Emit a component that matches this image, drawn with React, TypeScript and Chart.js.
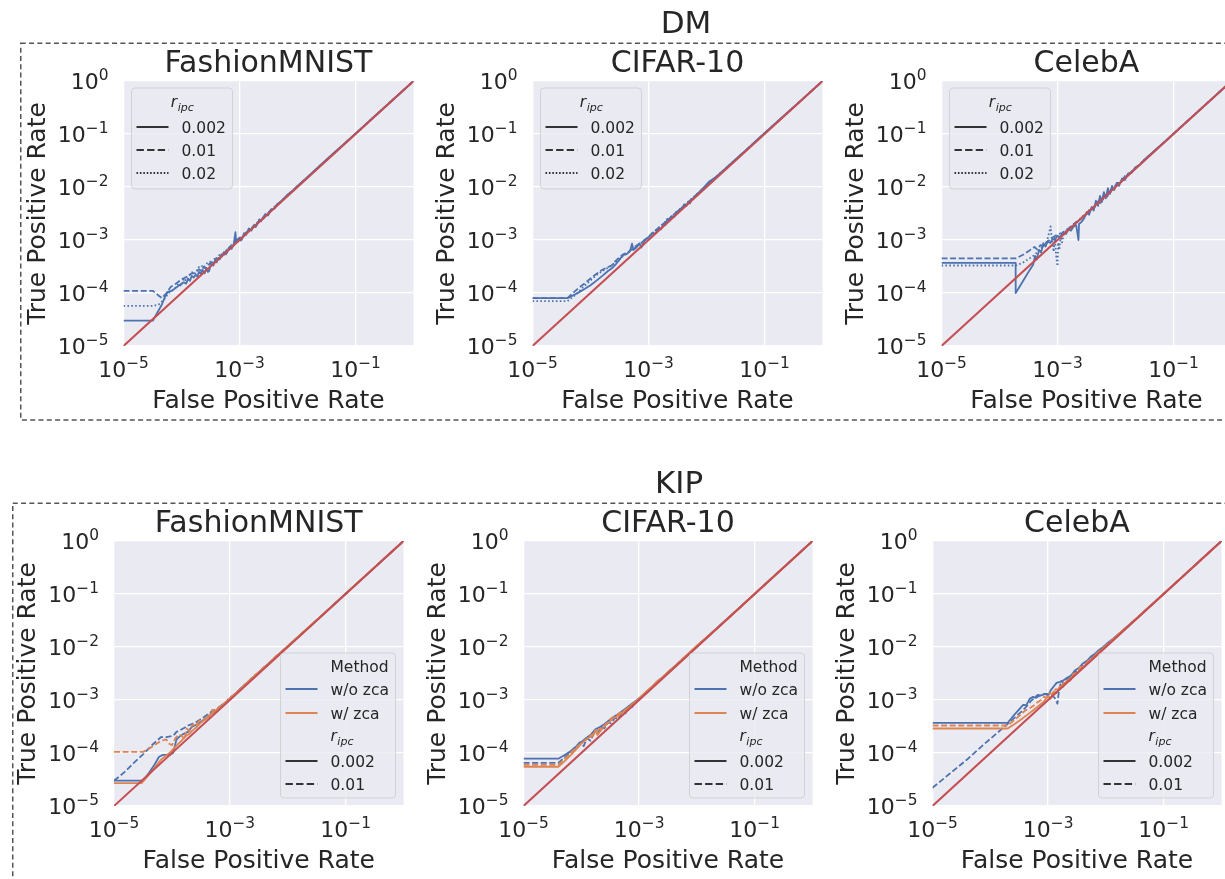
import React, { useEffect, useRef } from "react";
import { Chart, registerables } from "chart.js";

Chart.register(...registerables);

type Pt = [number, number];

// ---------- tick labels ----------
const X_TICKS = [1e-5, 1e-3, 1e-1];
const X_TICK_EXP = ["\u22125", "\u22123", "\u22121"];
const Y_TICKS = [1e-5, 1e-4, 1e-3, 1e-2, 1e-1, 1];
const Y_TICK_EXP = ["\u22125", "\u22124", "\u22123", "\u22122", "\u22121", "0"];

const GROUP_TITLES = ["DM", "KIP"];
const PANEL_TITLES = ["FashionMNIST", "CIFAR-10", "CelebA"];
const X_LABEL = "False Positive Rate";
const Y_LABEL = "True Positive Rate";
const DM_LEGEND_LABELS = ["0.002", "0.01", "0.02"];
const KIP_METHOD_TITLE = "Method";
const KIP_METHOD_LABELS = ["w/o zca", "w/ zca"];
const KIP_RIPC_LABELS = ["0.002", "0.01"];

// ---------- data ----------
const DIAGONAL: Pt[] = [[1e-5, 1e-5], [1, 1]];

// DM FashionMNIST
const DM_FM_0002: Pt[] = [[1e-5,3e-5],[3.2e-5,3e-5],[3.8e-5,4.2e-5],[4.5e-5,5.8e-5],[5.2e-5,8.5e-5],[5.8e-5,1.05e-4],[6.8e-5,1.1e-4],[8e-5,1.25e-4],[9.5e-5,1.45e-4],[1.1e-4,1.6e-4],[1.2e-4,1.5e-4],[1.3e-4,1.85e-4],[1.4e-4,1.7e-4],[1.5e-4,2.1e-4],[1.62e-4,1.95e-4],[1.75e-4,2.2e-4],[1.88e-4,2.05e-4],[2e-4,2.5e-4],[2.15e-4,2.3e-4],[2.3e-4,2.75e-4],[2.5e-4,2.35e-4],[2.7e-4,2.95e-4],[2.85e-4,2.5e-4],[3e-4,2.6e-4],[3.15e-4,3.3e-4],[3.3e-4,3.5e-4],[3.55e-4,3.3e-4],[3.8e-4,4.1e-4],[4.05e-4,3.8e-4],[4.3e-4,4.6e-4],[4.55e-4,4.3e-4],[4.8e-4,4.8e-4],[5.15e-4,5.4e-4],[5.5e-4,5.9e-4],[5.85e-4,5.4e-4],[6.2e-4,6.0e-4],[6.6e-4,7.2e-4],[7e-4,7.6e-4],[7.3e-4,6.8e-4],[7.6e-4,7.4e-4],[8e-4,8.6e-4],[8.5e-4,1.4e-3],[8.8e-4,8.8e-4],[9.4e-4,1.05e-3],[1e-3,1.1e-3],[1.05e-3,9.8e-4],[1.1e-3,1.02e-3],[1.2e-3,1.35e-3],[1.3e-3,1.25e-3],[1.45e-3,1.65e-3],[1.6e-3,1.5e-3],[1.8e-3,1.95e-3],[1.9e-3,1.75e-3],[2e-3,1.95e-3],[2.2e-3,2.45e-3],[2.35e-3,2.25e-3],[2.5e-3,2.6e-3],[2.8e-3,3.1e-3],[3.1e-3,2.9e-3],[3.5e-3,3.8e-3],[4e-3,3.9e-3],[4.5e-3,4.8e-3],[5.2e-3,5.3e-3],[6.5e-3,6.9e-3],[8e-3,8.3e-3],[1e-2,1.05e-2],[1.5e-2,1.55e-2],[2.5e-2,2.6e-2],[4e-2,4.15e-2],[7e-2,7.2e-2],[0.12,0.122],[0.2,0.203],[0.35,0.352],[0.6,0.601],[1,1]];
const DM_FM_001: Pt[] = [[1e-5,1.1e-4],[3.2e-5,1.1e-4],[4e-5,9e-5],[4.6e-5,8e-5],[5.5e-5,1.0e-4],[6.5e-5,1.3e-4],[8e-5,1.5e-4],[1e-4,1.8e-4],[1.2e-4,2.0e-4],[1.45e-4,2.3e-4],[1.7e-4,2.4e-4],[2e-4,2.8e-4],[2.2e-4,2.6e-4],[2.4e-4,3.1e-4],[2.6e-4,2.9e-4],[2.8e-4,3.3e-4],[3.3e-4,3.8e-4],[3.6e-4,3.5e-4],[4e-4,4.6e-4],[4.5e-4,4.4e-4],[5e-4,5.6e-4],[5.5e-4,5.3e-4],[6e-4,6.6e-4],[6.6e-4,6.4e-4],[7.2e-4,8e-4],[7.9e-4,7.7e-4],[8.6e-4,9.4e-4],[9.3e-4,9.0e-4],[1e-3,1.08e-3],[1.15e-3,1.12e-3],[1.3e-3,1.4e-3],[1.5e-3,1.45e-3],[1.7e-3,1.8e-3],[1.95e-3,1.9e-3],[2.2e-3,2.35e-3],[2.6e-3,2.55e-3],[3e-3,3.15e-3],[4e-3,4.2e-3],[5.5e-3,5.7e-3],[8e-3,8.3e-3],[1.2e-2,1.24e-2],[2e-2,2.05e-2],[4e-2,4.08e-2],[8e-2,8.1e-2],[0.16,0.161],[0.35,0.351],[1,1]];
const DM_FM_002: Pt[] = [[1e-5,5.7e-5],[3.2e-5,5.7e-5],[4e-5,6e-5],[5e-5,7.5e-5],[6e-5,1.0e-4],[7.5e-5,1.2e-4],[9e-5,1.5e-4],[1e-4,1.35e-4],[1.1e-4,1.9e-4],[1.2e-4,1.7e-4],[1.35e-4,2.1e-4],[1.45e-4,2.4e-4],[1.6e-4,2.5e-4],[1.75e-4,2.3e-4],[1.9e-4,2.9e-4],[2.05e-4,3.2e-4],[2.2e-4,3.3e-4],[2.4e-4,3.0e-4],[2.6e-4,3.4e-4],[2.8e-4,3.7e-4],[3.1e-4,3.9e-4],[3.4e-4,3.6e-4],[3.7e-4,4.4e-4],[4.1e-4,4.2e-4],[4.5e-4,5.2e-4],[5e-4,4.9e-4],[5.5e-4,6.2e-4],[6.1e-4,6.0e-4],[6.8e-4,7.6e-4],[7.6e-4,7.3e-4],[8.5e-4,9.5e-4],[9.5e-4,9.3e-4],[1.05e-3,1.15e-3],[1.2e-3,1.18e-3],[1.4e-3,1.5e-3],[1.7e-3,1.68e-3],[2e-3,2.1e-3],[2.5e-3,2.48e-3],[3e-3,3.1e-3],[4.5e-3,4.7e-3],[7e-3,7.2e-3],[1.2e-2,1.23e-2],[2.5e-2,2.55e-2],[6e-2,6.05e-2],[0.15,0.151],[0.4,0.401],[1,1]];

// DM CIFAR-10
const DM_C10_0002: Pt[] = [[1e-5,8e-5],[4e-5,8e-5],[5e-5,9e-5],[6.5e-5,1.05e-4],[8e-5,1.2e-4],[1e-4,1.4e-4],[1.3e-4,1.75e-4],[1.6e-4,2.1e-4],[2e-4,2.6e-4],[2.4e-4,3.0e-4],[2.8e-4,3.6e-4],[3.2e-4,4.3e-4],[3.6e-4,5.2e-4],[4.2e-4,5.4e-4],[4.8e-4,6.2e-4],[5.2e-4,8.5e-4],[5.5e-4,6.5e-4],[6.2e-4,7.2e-4],[7e-4,8.6e-4],[7.5e-4,7.2e-4],[8.5e-4,9.8e-4],[1e-3,1.1e-3],[1.15e-3,1.35e-3],[1.3e-3,1.3e-3],[1.5e-3,1.7e-3],[1.65e-3,1.6e-3],[1.8e-3,2.0e-3],[2e-3,1.95e-3],[2.1e-3,2.5e-3],[2.3e-3,2.3e-3],[2.5e-3,2.8e-3],[2.75e-3,2.7e-3],[3e-3,3.4e-3],[3.25e-3,3.25e-3],[3.5e-3,3.9e-3],[3.8e-3,3.8e-3],[4.1e-3,4.7e-3],[4.5e-3,4.4e-3],[4.8e-3,5.2e-3],[5.2e-3,4.9e-3],[5.5e-3,5.9e-3],[6.3e-3,6.5e-3],[7.5e-3,8.0e-3],[9e-3,9.8e-3],[1.1e-2,1.25e-2],[1.4e-2,1.5e-2],[2e-2,2.1e-2],[3e-2,3.15e-2],[5e-2,5.2e-2],[8e-2,8.3e-2],[0.13,0.135],[0.22,0.226],[0.4,0.405],[0.7,0.702],[1,1]];
const DM_C10_001: Pt[] = [[1e-5,8e-5],[4e-5,8e-5],[5e-5,1.0e-4],[6e-5,1.2e-4],[7.5e-5,1.45e-4],[9e-5,1.7e-4],[1.1e-4,2.05e-4],[1.35e-4,2.4e-4],[1.6e-4,2.75e-4],[1.9e-4,3.0e-4],[2.3e-4,3.3e-4],[2.7e-4,4.0e-4],[3.2e-4,4.8e-4],[3.7e-4,5.4e-4],[4.3e-4,5.7e-4],[5e-4,6.5e-4],[5.8e-4,7.4e-4],[6.8e-4,8.4e-4],[8e-4,9.4e-4],[9.5e-4,1.1e-3],[1.1e-3,1.25e-3],[1.35e-3,1.55e-3],[1.7e-3,1.9e-3],[2.2e-3,2.45e-3],[2.8e-3,3.1e-3],[3.6e-3,3.9e-3],[4.6e-3,4.9e-3],[6e-3,6.4e-3],[8e-3,8.5e-3],[1.1e-2,1.16e-2],[1.6e-2,1.68e-2],[2.5e-2,2.6e-2],[4e-2,4.15e-2],[7e-2,7.2e-2],[0.13,0.133],[0.25,0.253],[0.5,0.502],[1,1]];
const DM_C10_002: Pt[] = [[1e-5,7e-5],[4e-5,7e-5],[5e-5,8.5e-5],[6e-5,1.0e-4],[7.5e-5,1.3e-4],[9e-5,1.55e-4],[1.1e-4,1.9e-4],[1.35e-4,2.3e-4],[1.6e-4,2.6e-4],[2e-4,3.0e-4],[2.4e-4,3.4e-4],[2.9e-4,4.1e-4],[3.4e-4,4.7e-4],[4e-4,5.3e-4],[4.7e-4,6.0e-4],[5.5e-4,6.8e-4],[6.5e-4,7.8e-4],[7.8e-4,9.1e-4],[9.3e-4,1.08e-3],[1.1e-3,1.25e-3],[1.3e-3,1.5e-3],[1.6e-3,1.8e-3],[2e-3,2.25e-3],[2.5e-3,2.8e-3],[3.2e-3,3.5e-3],[4e-3,4.35e-3],[5e-3,5.4e-3],[6.5e-3,7e-3],[9e-3,9.6e-3],[1.3e-2,1.37e-2],[2e-2,2.1e-2],[3.5e-2,3.62e-2],[6e-2,6.15e-2],[0.11,0.112],[0.22,0.222],[0.45,0.451],[1,1]];

// DM CelebA
const DM_CA_0002: Pt[] = [[1e-5,3.7e-4],[1.9e-4,3.7e-4],[1.9e-4,1.0e-4],[2.3e-4,1.4e-4],[2.8e-4,2.0e-4],[3.3e-4,2.7e-4],[3.8e-4,3.4e-4],[4.1e-4,5.0e-4],[4.4e-4,4.3e-4],[4.8e-4,6.5e-4],[5.2e-4,5.8e-4],[5.7e-4,8.7e-4],[6.2e-4,7.5e-4],[6.8e-4,9.5e-4],[7.5e-4,8.8e-4],[8.2e-4,1.05e-3],[9e-4,1.0e-3],[1e-3,1.2e-3],[1.1e-3,1.1e-3],[1.25e-3,1.4e-3],[1.4e-3,1.3e-3],[1.55e-3,1.6e-3],[1.7e-3,1.5e-3],[1.9e-3,1.8e-3],[2.1e-3,1.9e-3],[2.3e-3,1.0e-3],[2.35e-3,2.0e-3],[2.6e-3,2.2e-3],[2.9e-3,2.6e-3],[3.2e-3,3.4e-3],[3.5e-3,3.0e-3],[3.9e-3,4.2e-3],[4.2e-3,3.6e-3],[4.6e-3,5.5e-3],[5e-3,4.4e-3],[5.4e-3,6.8e-3],[5.8e-3,5.2e-3],[6.3e-3,8e-3],[6.8e-3,6.1e-3],[7.4e-3,9.5e-3],[8e-3,7.4e-3],[8.7e-3,1.05e-2],[9.5e-3,8.8e-3],[1.05e-2,1.2e-2],[1.15e-2,1.05e-2],[1.3e-2,1.45e-2],[1.45e-2,1.35e-2],[1.65e-2,1.8e-2],[1.9e-2,1.85e-2],[2.2e-2,2.35e-2],[2.6e-2,2.6e-2],[3.2e-2,3.35e-2],[4e-2,4.1e-2],[5e-2,5.15e-2],[7e-2,7.1e-2],[0.1,0.102],[0.16,0.162],[0.28,0.282],[0.5,0.501],[1,1]];
const DM_CA_001: Pt[] = [[1e-5,4.5e-4],[1.9e-4,4.5e-4],[2.5e-4,5.2e-4],[3.2e-4,6.2e-4],[4e-4,7.4e-4],[4.5e-4,6.6e-4],[5.1e-4,8e-4],[5.8e-4,7.6e-4],[6.5e-4,9.2e-4],[7.3e-4,1.0e-3],[8.2e-4,1.1e-3],[9.2e-4,1.2e-3],[1.05e-3,1.3e-3],[1.2e-3,1.35e-3],[1.35e-3,1.5e-3],[1.55e-3,1.65e-3],[1.8e-3,1.9e-3],[2.1e-3,2.2e-3],[2.4e-3,2.3e-3],[2.8e-3,2.9e-3],[3.2e-3,3.1e-3],[3.7e-3,4.0e-3],[4.2e-3,3.9e-3],[4.8e-3,5.3e-3],[5.5e-3,5.0e-3],[6.3e-3,7.0e-3],[7.2e-3,6.6e-3],[8.2e-3,9.2e-3],[9.4e-3,8.9e-3],[1.08e-2,1.2e-2],[1.25e-2,1.2e-2],[1.45e-2,1.6e-2],[1.7e-2,1.72e-2],[2e-2,2.1e-2],[2.5e-2,2.55e-2],[3.2e-2,3.3e-2],[4.5e-2,4.6e-2],[7e-2,7.1e-2],[0.12,0.121],[0.22,0.221],[0.45,0.451],[1,1]];
const DM_CA_002: Pt[] = [[1e-5,3.3e-4],[1.9e-4,3.3e-4],[2.5e-4,3.7e-4],[3.3e-4,4.5e-4],[4e-4,5.2e-4],[4.8e-4,6.3e-4],[5.6e-4,7.5e-4],[6.5e-4,9e-4],[7.2e-4,1.4e-3],[7.6e-4,1.8e-3],[8e-4,1.0e-3],[8.6e-4,6e-4],[9e-4,1.1e-3],[9.5e-4,5e-4],[1e-3,3.2e-4],[1.03e-3,9e-4],[1.08e-3,6.5e-4],[1.13e-3,1.2e-3],[1.2e-3,9e-4],[1.3e-3,1.4e-3],[1.45e-3,1.5e-3],[1.65e-3,1.7e-3],[1.9e-3,1.95e-3],[2.2e-3,2.2e-3],[2.6e-3,2.7e-3],[3.1e-3,3.0e-3],[3.7e-3,3.9e-3],[4.4e-3,4.2e-3],[5.2e-3,5.6e-3],[6.1e-3,5.8e-3],[7.2e-3,7.8e-3],[8.5e-3,8.2e-3],[1e-2,1.08e-2],[1.2e-2,1.18e-2],[1.5e-2,1.56e-2],[2e-2,2.05e-2],[3e-2,3.05e-2],[5e-2,5.05e-2],[0.09,0.091],[0.18,0.181],[0.4,0.401],[1,1]];

// KIP FashionMNIST
const KIP_FM_NOZCA_0002: Pt[] = [[1e-5,3e-5],[3.2e-5,3e-5],[4e-5,4.2e-5],[5e-5,6e-5],[6e-5,8.5e-5],[7e-5,9.2e-5],[9e-5,9.2e-5],[1.05e-4,1.0e-4],[1.2e-4,1.8e-4],[1.4e-4,2.1e-4],[1.6e-4,2.3e-4],[1.9e-4,2.5e-4],[2.2e-4,3.1e-4],[2.5e-4,3.3e-4],[2.9e-4,3.6e-4],[3.4e-4,4.1e-4],[4e-4,4.6e-4],[4.7e-4,5.4e-4],[5.5e-4,6.0e-4],[6.5e-4,6.8e-4],[7.5e-4,8.2e-4],[8.5e-4,8.8e-4],[1e-3,1.06e-3],[1.2e-3,1.25e-3],[1.5e-3,1.6e-3],[1.9e-3,2.0e-3],[2.4e-3,2.55e-3],[3e-3,3.1e-3],[3.8e-3,4.0e-3],[4.8e-3,5.0e-3],[6e-3,6.2e-3],[7.5e-3,7.8e-3],[1e-2,1.03e-2],[1.5e-2,1.53e-2],[2.5e-2,2.53e-2],[5e-2,5.05e-2],[0.1,0.101],[0.25,0.251],[0.6,0.601],[1,1]];
const KIP_FM_ZCA_0002: Pt[] = [[1e-5,2.7e-5],[3e-5,2.7e-5],[3.6e-5,3.4e-5],[4.5e-5,4.5e-5],[5.5e-5,6e-5],[6.5e-5,7.5e-5],[8e-5,9e-5],[9.5e-5,1.05e-4],[1.1e-4,1.25e-4],[1.3e-4,1.5e-4],[1.5e-4,1.75e-4],[1.75e-4,2.1e-4],[2e-4,2.3e-4],[2.3e-4,2.7e-4],[2.7e-4,3.1e-4],[3.2e-4,3.8e-4],[3.8e-4,4.3e-4],[4.5e-4,5.3e-4],[5.3e-4,5.9e-4],[6.3e-4,7.0e-4],[7.5e-4,8.1e-4],[9e-4,9.6e-4],[1.1e-3,1.17e-3],[1.35e-3,1.42e-3],[1.7e-3,1.8e-3],[2.1e-3,2.22e-3],[2.7e-3,2.82e-3],[3.5e-3,3.62e-3],[4.5e-3,4.65e-3],[6e-3,6.2e-3],[8e-3,8.25e-3],[1.1e-2,1.13e-2],[1.6e-2,1.64e-2],[2.5e-2,2.54e-2],[4.5e-2,4.55e-2],[0.09,0.091],[0.2,0.201],[0.5,0.501],[1,1]];
const KIP_FM_NOZCA_001: Pt[] = [[1e-5,3e-5],[1.5e-5,4.3e-5],[2.2e-5,6.5e-5],[3.2e-5,9.5e-5],[4.5e-5,1.4e-4],[6.5e-5,2.0e-4],[8e-5,2.0e-4],[1.05e-4,2.1e-4],[1.2e-4,2.5e-4],[1.4e-4,2.7e-4],[1.65e-4,3.0e-4],[1.9e-4,3.3e-4],[2.2e-4,3.5e-4],[2.6e-4,3.8e-4],[3e-4,4.2e-4],[3.5e-4,4.7e-4],[4.2e-4,5.4e-4],[5e-4,6.2e-4],[6e-4,6.8e-4],[7e-4,7.8e-4],[8.2e-4,8.6e-4],[9.5e-4,1.05e-3],[1.15e-3,1.22e-3],[1.4e-3,1.5e-3],[1.8e-3,1.92e-3],[2.3e-3,2.45e-3],[3e-3,3.15e-3],[4e-3,4.15e-3],[5.5e-3,5.7e-3],[7.5e-3,7.75e-3],[1.1e-2,1.13e-2],[1.7e-2,1.74e-2],[3e-2,3.05e-2],[6e-2,6.05e-2],[0.13,0.131],[0.3,0.301],[1,1]];
const KIP_FM_ZCA_001: Pt[] = [[1e-5,1.05e-4],[3.2e-5,1.05e-4],[4e-5,1.2e-4],[5e-5,1.4e-4],[6.5e-5,1.7e-4],[8e-5,1.8e-4],[9e-5,1.5e-4],[1e-4,1.4e-4],[1.15e-4,1.9e-4],[1.3e-4,2.2e-4],[1.5e-4,2.1e-4],[1.65e-4,1.8e-4],[1.8e-4,2.9e-4],[2e-4,2.6e-4],[2.3e-4,3.5e-4],[2.6e-4,3.2e-4],[3e-4,4.2e-4],[3.4e-4,3.9e-4],[3.9e-4,5.0e-4],[4.4e-4,4.7e-4],[5e-4,6.6e-4],[5.6e-4,5.8e-4],[6.3e-4,7.1e-4],[7.2e-4,7.6e-4],[8.2e-4,8.9e-4],[9.5e-4,1.0e-3],[1.1e-3,1.18e-3],[1.3e-3,1.38e-3],[1.6e-3,1.7e-3],[2e-3,2.15e-3],[2.5e-3,2.75e-3],[3.1e-3,3.3e-3],[3.8e-3,4.1e-3],[4.8e-3,5.0e-3],[6e-3,6.4e-3],[7.5e-3,7.9e-3],[1e-2,1.05e-2],[1.4e-2,1.45e-2],[2e-2,2.06e-2],[3.2e-2,3.26e-2],[6e-2,6.05e-2],[0.13,0.131],[0.3,0.301],[1,1]];

// KIP CIFAR-10
const KIP_C10_NOZCA_0002: Pt[] = [[1e-5,7.8e-5],[4e-5,7.8e-5],[5e-5,9e-5],[6.3e-5,1.05e-4],[8e-5,1.3e-4],[1e-4,1.6e-4],[1.2e-4,1.9e-4],[1.45e-4,2.2e-4],[1.75e-4,2.8e-4],[2.1e-4,3.1e-4],[2.5e-4,3.5e-4],[3e-4,4.1e-4],[3.6e-4,4.8e-4],[4.3e-4,5.4e-4],[5.2e-4,6.3e-4],[6.2e-4,7.2e-4],[7.5e-4,8.5e-4],[9e-4,9.8e-4],[1.1e-3,1.18e-3],[1.35e-3,1.43e-3],[1.7e-3,1.8e-3],[2.1e-3,2.25e-3],[2.7e-3,2.85e-3],[3.5e-3,3.7e-3],[4.5e-3,4.7e-3],[6e-3,6.2e-3],[8e-3,8.3e-3],[1.1e-2,1.13e-2],[1.6e-2,1.64e-2],[2.5e-2,2.54e-2],[4.5e-2,4.55e-2],[0.09,0.091],[0.2,0.201],[0.5,0.501],[1,1]];
const KIP_C10_ZCA_0002: Pt[] = [[1e-5,5.5e-5],[4e-5,5.5e-5],[5e-5,6.8e-5],[6.5e-5,9e-5],[8e-5,1.15e-4],[1e-4,1.5e-4],[1.2e-4,1.8e-4],[1.4e-4,2.0e-4],[1.6e-4,2.1e-4],[1.75e-4,2.7e-4],[1.9e-4,2.2e-4],[2.2e-4,2.7e-4],[2.6e-4,3.3e-4],[3.1e-4,3.9e-4],[3.6e-4,4.6e-4],[4.2e-4,4.9e-4],[5e-4,5.7e-4],[6e-4,6.6e-4],[7.2e-4,7.8e-4],[8.6e-4,9.2e-4],[1.05e-3,1.12e-3],[1.3e-3,1.4e-3],[1.6e-3,1.72e-3],[2e-3,2.2e-3],[2.4e-3,2.5e-3],[3e-3,3.2e-3],[3.8e-3,4.0e-3],[4.8e-3,5.0e-3],[6.2e-3,6.6e-3],[8e-3,8.4e-3],[1e-2,1.06e-2],[1.3e-2,1.36e-2],[1.8e-2,1.85e-2],[2.8e-2,2.84e-2],[5e-2,5.05e-2],[0.1,0.101],[0.22,0.221],[0.5,0.501],[1,1]];
const KIP_C10_NOZCA_001: Pt[] = [[1e-5,6.5e-5],[4e-5,6.5e-5],[5e-5,8e-5],[6.5e-5,1.05e-4],[8e-5,1.3e-4],[9.5e-5,1.6e-4],[1.1e-4,1.35e-4],[1.25e-4,1.9e-4],[1.45e-4,1.7e-4],[1.65e-4,2.4e-4],[1.9e-4,2.3e-4],[2.2e-4,3.1e-4],[2.5e-4,2.9e-4],[2.9e-4,3.8e-4],[3.3e-4,3.6e-4],[3.8e-4,4.6e-4],[4.4e-4,4.4e-4],[5e-4,5.8e-4],[5.8e-4,5.6e-4],[6.6e-4,7.3e-4],[7.6e-4,7.4e-4],[8.8e-4,9.5e-4],[1e-3,1.0e-3],[1.2e-3,1.27e-3],[1.45e-3,1.5e-3],[1.8e-3,1.9e-3],[2.3e-3,2.4e-3],[2.9e-3,3.05e-3],[3.7e-3,3.9e-3],[4.8e-3,4.95e-3],[6.3e-3,6.5e-3],[8.5e-3,8.8e-3],[1.2e-2,1.24e-2],[1.8e-2,1.84e-2],[3e-2,3.04e-2],[6e-2,6.05e-2],[0.13,0.131],[0.3,0.301],[1,1]];
const KIP_C10_ZCA_001: Pt[] = [[1e-5,6e-5],[4e-5,6e-5],[5e-5,7.5e-5],[6.5e-5,1.0e-4],[8e-5,1.25e-4],[1e-4,1.55e-4],[1.2e-4,1.75e-4],[1.4e-4,2.1e-4],[1.65e-4,2.3e-4],[1.9e-4,2.7e-4],[2.3e-4,3.0e-4],[2.7e-4,3.6e-4],[3.2e-4,4.4e-4],[3.8e-4,4.8e-4],[4.5e-4,5.6e-4],[5.4e-4,6.3e-4],[6.4e-4,7.1e-4],[7.6e-4,8.3e-4],[9e-4,9.7e-4],[1.1e-3,1.15e-3],[1.35e-3,1.45e-3],[1.7e-3,1.78e-3],[2.1e-3,2.3e-3],[2.6e-3,2.75e-3],[3.3e-3,3.5e-3],[4.2e-3,4.4e-3],[5.4e-3,5.7e-3],[7e-3,7.3e-3],[9.5e-3,9.9e-3],[1.3e-2,1.34e-2],[2e-2,2.04e-2],[3.5e-2,3.54e-2],[7e-2,7.05e-2],[0.15,0.151],[0.35,0.351],[1,1]];

// KIP CelebA
const KIP_CA_NOZCA_0002: Pt[] = [[1e-5,3.7e-4],[2e-4,3.7e-4],[2.5e-4,5e-4],[3.1e-4,6.5e-4],[3.7e-4,8.1e-4],[4.2e-4,8e-4],[4.8e-4,1.05e-3],[5.5e-4,1.15e-3],[6.2e-4,1.1e-3],[7e-4,1.2e-3],[8e-4,1.25e-3],[9e-4,1.3e-3],[1e-3,1.2e-3],[1.1e-3,1.5e-3],[1.25e-3,1.8e-3],[1.4e-3,2.1e-3],[1.6e-3,2.2e-3],[1.8e-3,2.3e-3],[2.1e-3,2.6e-3],[2.5e-3,2.9e-3],[2.9e-3,3.6e-3],[3.4e-3,4.0e-3],[4e-3,4.9e-3],[4.7e-3,5.5e-3],[5.5e-3,6.6e-3],[6.5e-3,7.5e-3],[7.6e-3,8.8e-3],[9e-3,1.0e-2],[1.1e-2,1.22e-2],[1.35e-2,1.45e-2],[1.7e-2,1.8e-2],[2.2e-2,2.28e-2],[3e-2,3.08e-2],[4.5e-2,4.6e-2],[7e-2,7.1e-2],[0.12,0.121],[0.25,0.251],[0.55,0.551],[1,1]];
const KIP_CA_ZCA_0002: Pt[] = [[1e-5,2.9e-4],[2e-4,2.9e-4],[2.6e-4,3.5e-4],[3.4e-4,4.3e-4],[4.4e-4,5.3e-4],[5.6e-4,6.5e-4],[7e-4,7.9e-4],[8.5e-4,9.4e-4],[1e-3,1.2e-3],[1.1e-3,1.05e-3],[1.25e-3,1.45e-3],[1.4e-3,1.35e-3],[1.6e-3,1.8e-3],[1.8e-3,1.75e-3],[2.1e-3,2.3e-3],[2.4e-3,2.3e-3],[2.8e-3,3.1e-3],[3.2e-3,3.2e-3],[3.7e-3,4.1e-3],[4.3e-3,4.3e-3],[5e-3,5.5e-3],[5.8e-3,5.8e-3],[6.8e-3,7.4e-3],[8e-3,8.1e-3],[9.5e-3,1.02e-2],[1.12e-2,1.15e-2],[1.35e-2,1.45e-2],[1.6e-2,1.62e-2],[1.95e-2,2.08e-2],[2.4e-2,2.45e-2],[3e-2,3.12e-2],[3.8e-2,3.85e-2],[5e-2,5.15e-2],[6.5e-2,6.55e-2],[0.09,0.092],[0.13,0.131],[0.2,0.202],[0.35,0.351],[0.6,0.601],[1,1]];
const KIP_CA_NOZCA_001: Pt[] = [[1e-5,2.2e-5],[2e-5,4.1e-5],[4e-5,7.6e-5],[8e-5,1.5e-4],[1.5e-4,2.7e-4],[2.5e-4,4.4e-4],[3.5e-4,6.1e-4],[4.2e-4,7.5e-4],[5e-4,9.5e-4],[5.8e-4,1.1e-3],[6.6e-4,1.25e-3],[7.5e-4,1.2e-3],[8.5e-4,1.3e-3],[1e-3,1.3e-3],[1.15e-3,1.25e-3],[1.3e-3,1.1e-3],[1.45e-3,8.5e-4],[1.55e-3,1.6e-3],[1.7e-3,2.3e-3],[1.9e-3,2.0e-3],[2.2e-3,2.6e-3],[2.6e-3,2.8e-3],[3.1e-3,3.6e-3],[3.7e-3,4.0e-3],[4.4e-3,5.0e-3],[5.3e-3,5.8e-3],[6.4e-3,7.2e-3],[7.8e-3,8.4e-3],[9.5e-3,1.05e-2],[1.2e-2,1.28e-2],[1.6e-2,1.68e-2],[2.2e-2,2.28e-2],[3.2e-2,3.28e-2],[5e-2,5.08e-2],[8e-2,8.1e-2],[0.15,0.151],[0.32,0.321],[1,1]];
const KIP_CA_ZCA_001: Pt[] = [[1e-5,3.3e-4],[2e-4,3.3e-4],[2.6e-4,4.2e-4],[3.3e-4,5.2e-4],[4e-4,6.3e-4],[4.8e-4,7e-4],[5.6e-4,7.8e-4],[6.5e-4,9e-4],[7.5e-4,1.0e-3],[8.5e-4,1.15e-3],[9.5e-4,1.1e-3],[1.05e-3,1.35e-3],[1.2e-3,1.3e-3],[1.35e-3,1.6e-3],[1.55e-3,1.55e-3],[1.8e-3,2.0e-3],[2e-3,2.3e-3],[2.3e-3,2.4e-3],[2.7e-3,3.1e-3],[3.1e-3,3.2e-3],[3.6e-3,4.2e-3],[4.2e-3,4.4e-3],[5e-3,5.6e-3],[6e-3,6.3e-3],[7.2e-3,7.9e-3],[8.6e-3,9.0e-3],[1.05e-2,1.12e-2],[1.3e-2,1.35e-2],[1.6e-2,1.7e-2],[2e-2,2.06e-2],[2.6e-2,2.7e-2],[3.5e-2,3.56e-2],[5e-2,5.1e-2],[8e-2,8.1e-2],[0.14,0.141],[0.3,0.301],[1,1]];

// ---------- styles ----------
const BLUE = "#4C72B0";
const ORANGE = "#DD8452";
const RED = "#C44E52";
const INK = "#262626";
const HANDLE = "#333333";
const BG = "#EAEAF2";
const FONT = "'DejaVu Sans', 'Liberation Sans', sans-serif";
const SOLID: number[] = [];
const DASHED = [6, 2.6];
const DOTTED = [1.6, 2.3];

type Series = { data: Pt[]; color: string; dash: number[]; order: number };
type Panel = {
  title: string;
  area: [number, number, number, number];
  series: Series[];
  legend: "dm" | "kip";
  figure: boolean;
};

const CANVAS_W = 1240;
const CANVAS_H = 879;

const PANELS: Panel[] = [
  { title: PANEL_TITLES[0], area: [123.5, 81, 413.5, 346], legend: "dm", figure: true,
    series: [
      { data: DM_FM_0002, color: BLUE, dash: SOLID, order: 2 },
      { data: DM_FM_001, color: BLUE, dash: DASHED, order: 2 },
      { data: DM_FM_002, color: BLUE, dash: DOTTED, order: 2 },
    ] },
  { title: PANEL_TITLES[1], area: [532.5, 81, 822.5, 346], legend: "dm", figure: false,
    series: [
      { data: DM_C10_0002, color: BLUE, dash: SOLID, order: 2 },
      { data: DM_C10_001, color: BLUE, dash: DASHED, order: 2 },
      { data: DM_C10_002, color: BLUE, dash: DOTTED, order: 2 },
    ] },
  { title: PANEL_TITLES[2], area: [941.5, 81, 1231.5, 346], legend: "dm", figure: false,
    series: [
      { data: DM_CA_0002, color: BLUE, dash: SOLID, order: 2 },
      { data: DM_CA_001, color: BLUE, dash: DASHED, order: 2 },
      { data: DM_CA_002, color: BLUE, dash: DOTTED, order: 2 },
    ] },
  { title: PANEL_TITLES[0], area: [114, 541, 403.5, 806], legend: "kip", figure: false,
    series: [
      { data: KIP_FM_NOZCA_0002, color: BLUE, dash: SOLID, order: 2 },
      { data: KIP_FM_NOZCA_001, color: BLUE, dash: DASHED, order: 2 },
      { data: KIP_FM_ZCA_0002, color: ORANGE, dash: SOLID, order: 1 },
      { data: KIP_FM_ZCA_001, color: ORANGE, dash: DASHED, order: 1 },
    ] },
  { title: PANEL_TITLES[1], area: [523.5, 541, 812.5, 806], legend: "kip", figure: false,
    series: [
      { data: KIP_C10_NOZCA_0002, color: BLUE, dash: SOLID, order: 2 },
      { data: KIP_C10_NOZCA_001, color: BLUE, dash: DASHED, order: 2 },
      { data: KIP_C10_ZCA_0002, color: ORANGE, dash: SOLID, order: 1 },
      { data: KIP_C10_ZCA_001, color: ORANGE, dash: DASHED, order: 1 },
    ] },
  { title: PANEL_TITLES[2], area: [932.5, 541, 1221.5, 806], legend: "kip", figure: false,
    series: [
      { data: KIP_CA_NOZCA_0002, color: BLUE, dash: SOLID, order: 2 },
      { data: KIP_CA_NOZCA_001, color: BLUE, dash: DASHED, order: 2 },
      { data: KIP_CA_ZCA_0002, color: ORANGE, dash: SOLID, order: 1 },
      { data: KIP_CA_ZCA_001, color: ORANGE, dash: DASHED, order: 1 },
    ] },
];

// ---------- drawing helpers ----------
function roundRect(ctx: CanvasRenderingContext2D, x: number, y: number, w: number, h: number, r: number) {
  ctx.beginPath();
  ctx.moveTo(x + r, y);
  ctx.lineTo(x + w - r, y);
  ctx.arcTo(x + w, y, x + w, y + r, r);
  ctx.lineTo(x + w, y + h - r);
  ctx.arcTo(x + w, y + h, x + w - r, y + h, r);
  ctx.lineTo(x + r, y + h);
  ctx.arcTo(x, y + h, x, y + h - r, r);
  ctx.lineTo(x, y + r);
  ctx.arcTo(x, y, x + r, y, r);
  ctx.closePath();
}

function drawRipc(ctx: CanvasRenderingContext2D, x: number, baseline: number, center: boolean) {
  ctx.fillStyle = INK;
  ctx.textAlign = "left";
  ctx.textBaseline = "alphabetic";
  ctx.font = `italic 15.5px ${FONT}`;
  const wr = ctx.measureText("r").width;
  ctx.font = `italic 11px ${FONT}`;
  const ws = ctx.measureText("ipc").width;
  const x0 = center ? x - (wr + ws) / 2 : x;
  ctx.font = `italic 15.5px ${FONT}`;
  ctx.fillText("r", x0, baseline);
  ctx.font = `italic 11px ${FONT}`;
  ctx.fillText("ipc", x0 + wr + 0.5, baseline + 3.5);
}

function drawHandle(ctx: CanvasRenderingContext2D, x1: number, x2: number, y: number, color: string, dash: number[]) {
  ctx.save();
  ctx.strokeStyle = color;
  ctx.lineWidth = 2;
  ctx.setLineDash(dash);
  ctx.beginPath();
  ctx.moveTo(x1, y);
  ctx.lineTo(x2, y);
  ctx.stroke();
  ctx.restore();
}

function legendText(ctx: CanvasRenderingContext2D, text: string, x: number, centerY: number) {
  ctx.fillStyle = INK;
  ctx.font = `15.5px ${FONT}`;
  ctx.textAlign = "left";
  ctx.textBaseline = "alphabetic";
  ctx.fillText(text, x, centerY + 5.6);
}

function legendBox(ctx: CanvasRenderingContext2D, x: number, y: number, w: number, h: number) {
  ctx.save();
  roundRect(ctx, x, y, w, h, 3.5);
  ctx.fillStyle = "rgba(234,234,242,0.8)";
  ctx.fill();
  ctx.strokeStyle = "rgba(204,204,204,0.8)";
  ctx.lineWidth = 1;
  ctx.stroke();
  ctx.restore();
}

function drawDmLegend(ctx: CanvasRenderingContext2D, a: { left: number; top: number }) {
  const x = a.left + 8, y = a.top + 7, w = 101, h = 101;
  legendBox(ctx, x, y, w, h);
  drawRipc(ctx, x + w / 2, y + 19, true);
  const dashes = [SOLID, [7.4, 3.2], [1.6, 1.8]];
  const rows = [39, 62, 85];
  DM_LEGEND_LABELS.forEach((lab, i) => {
    drawHandle(ctx, x + 5, x + 37, y + rows[i], HANDLE, dashes[i]);
    legendText(ctx, lab, x + 50, y + rows[i]);
  });
}

function drawKipLegend(ctx: CanvasRenderingContext2D, a: { right: number; bottom: number }) {
  const w = 115, h = 145;
  const x = a.right - 8 - w, y = a.bottom - 8 - h;
  legendBox(ctx, x, y, w, h);
  legendText(ctx, KIP_METHOD_TITLE, x + 50, y + 13);
  const mColors = [BLUE, ORANGE];
  const mRows = [36, 60];
  KIP_METHOD_LABELS.forEach((lab, i) => {
    drawHandle(ctx, x + 5, x + 37, y + mRows[i], mColors[i], SOLID);
    legendText(ctx, lab, x + 50, y + mRows[i]);
  });
  drawRipc(ctx, x + 50, y + 88, false);
  const rDash = [SOLID, [7.4, 3.2]];
  const rRows = [108, 131];
  KIP_RIPC_LABELS.forEach((lab, i) => {
    drawHandle(ctx, x + 5, x + 37, y + rRows[i], HANDLE, rDash[i]);
    legendText(ctx, lab, x + 50, y + rRows[i]);
  });
}

function drawAxesText(chart: any, p: Panel) {
  const ctx: CanvasRenderingContext2D = chart.ctx;
  const a = chart.chartArea;
  const xs = chart.scales.x;
  const ys = chart.scales.y;
  ctx.save();
  ctx.fillStyle = INK;
  ctx.textBaseline = "alphabetic";
  ctx.textAlign = "left";
  const MAIN = `22px ${FONT}`;
  const SUP = `15.4px ${FONT}`;
  // x tick labels
  X_TICKS.forEach((v, i) => {
    const px = xs.getPixelForValue(v);
    ctx.font = MAIN;
    const w1 = ctx.measureText("10").width;
    ctx.font = SUP;
    const w2 = ctx.measureText(X_TICK_EXP[i]).width;
    const x0 = px - (w1 + w2) / 2;
    ctx.font = MAIN;
    ctx.fillText("10", x0, a.bottom + 31);
    ctx.font = SUP;
    ctx.fillText(X_TICK_EXP[i], x0 + w1, a.bottom + 22);
  });
  // y tick labels
  Y_TICKS.forEach((v, i) => {
    const py = ys.getPixelForValue(v);
    ctx.font = MAIN;
    const w1 = ctx.measureText("10").width;
    ctx.font = SUP;
    const w2 = ctx.measureText(Y_TICK_EXP[i]).width;
    const x0 = a.left - 15 - (w1 + w2);
    ctx.font = MAIN;
    ctx.fillText("10", x0, py + 8);
    ctx.font = SUP;
    ctx.fillText(Y_TICK_EXP[i], x0 + w1, py - 1);
  });
  // axis labels
  ctx.font = `25px ${FONT}`;
  ctx.textAlign = "center";
  ctx.fillText(X_LABEL, (a.left + a.right) / 2, a.bottom + 62);
  ctx.save();
  ctx.translate(a.left - 79, (a.top + a.bottom) / 2);
  ctx.rotate(-Math.PI / 2);
  ctx.fillText(Y_LABEL, 0, 0);
  ctx.restore();
  // subplot title
  ctx.font = `30px ${FONT}`;
  ctx.fillText(p.title, (a.left + a.right) / 2, a.top - 9);
  ctx.restore();
}

function drawFigure(ctx: CanvasRenderingContext2D) {
  ctx.save();
  ctx.strokeStyle = "#555555";
  ctx.lineWidth = 1.5;
  ctx.setLineDash([5, 3.3]);
  ctx.strokeRect(20.75, 43.25, 1400, 376.75);
  ctx.strokeRect(12.75, 503.25, 1400, 600);
  ctx.setLineDash([]);
  ctx.fillStyle = INK;
  ctx.font = `31px ${FONT}`;
  ctx.textAlign = "center";
  ctx.textBaseline = "alphabetic";
  ctx.fillText(GROUP_TITLES[0], 686, 33);
  ctx.fillText(GROUP_TITLES[1], 679, 493);
  ctx.restore();
}

function makeChart(canvas: HTMLCanvasElement, p: Panel) {
  const [L, T, R, B] = p.area;
  const datasets: any[] = [
    {
      data: DIAGONAL.map(([x, y]) => ({ x, y })),
      borderColor: RED,
      borderWidth: 2,
      pointRadius: 0,
      fill: false,
      tension: 0,
      order: 0,
    },
    ...p.series.map((s) => ({
      data: s.data.map(([x, y]) => ({ x, y })),
      borderColor: s.color,
      borderWidth: 1.8,
      borderDash: s.dash,
      borderJoinStyle: "round",
      pointRadius: 0,
      fill: false,
      tension: 0,
      order: s.order,
    })),
  ];
  const panelPlugin = {
    id: "panelDeco",
    beforeDraw(chart: any) {
      const a = chart.chartArea;
      const ctx = chart.ctx;
      ctx.save();
      ctx.fillStyle = BG;
      ctx.fillRect(a.left, a.top, a.right - a.left, a.bottom - a.top);
      ctx.restore();
    },
    afterDatasetsDraw(chart: any) {
      const a = chart.chartArea;
      if (p.legend === "dm") drawDmLegend(chart.ctx, a);
      else drawKipLegend(chart.ctx, a);
    },
    afterDraw(chart: any) {
      drawAxesText(chart, p);
      if (p.figure) drawFigure(chart.ctx);
    },
  };
  const axis = (ticks: number[]) => ({
    type: "logarithmic" as const,
    min: 1e-5,
    max: 1,
    afterBuildTicks: (scale: any) => {
      scale.ticks = ticks.map((v) => ({ value: v }));
    },
    ticks: { display: false },
    grid: { color: "#ffffff", lineWidth: 1.3, drawTicks: false },
    border: { display: false },
    title: { display: false },
  });
  return new Chart(canvas, {
    type: "line",
    data: { datasets },
    options: {
      responsive: false,
      animation: false,
      events: [],
      layout: {
        autoPadding: false,
        padding: { left: L, top: T, right: CANVAS_W - R, bottom: CANVAS_H - B },
      },
      plugins: {
        legend: { display: false },
        tooltip: { enabled: false },
        title: { display: false },
      },
      scales: {
        x: axis(X_TICKS),
        y: axis(Y_TICKS),
      },
    } as any,
    plugins: [panelPlugin],
  });
}

export default function App() {
  const refs = useRef<(HTMLCanvasElement | null)[]>([]);
  useEffect(() => {
    const charts = PANELS.map((p, i) => makeChart(refs.current[i] as HTMLCanvasElement, p));
    return () => charts.forEach((c) => c.destroy());
  }, []);
  return (
    <div
      style={{
        position: "absolute",
        left: 0,
        top: 0,
        width: 1225,
        height: 879,
        overflow: "hidden",
        background: "#ffffff",
      }}
    >
      {PANELS.map((_, i) => (
        <canvas
          key={i}
          ref={(el) => {
            refs.current[i] = el;
          }}
          width={CANVAS_W}
          height={CANVAS_H}
          style={{ position: "absolute", left: 0, top: 0 }}
        />
      ))}
    </div>
  );
}
